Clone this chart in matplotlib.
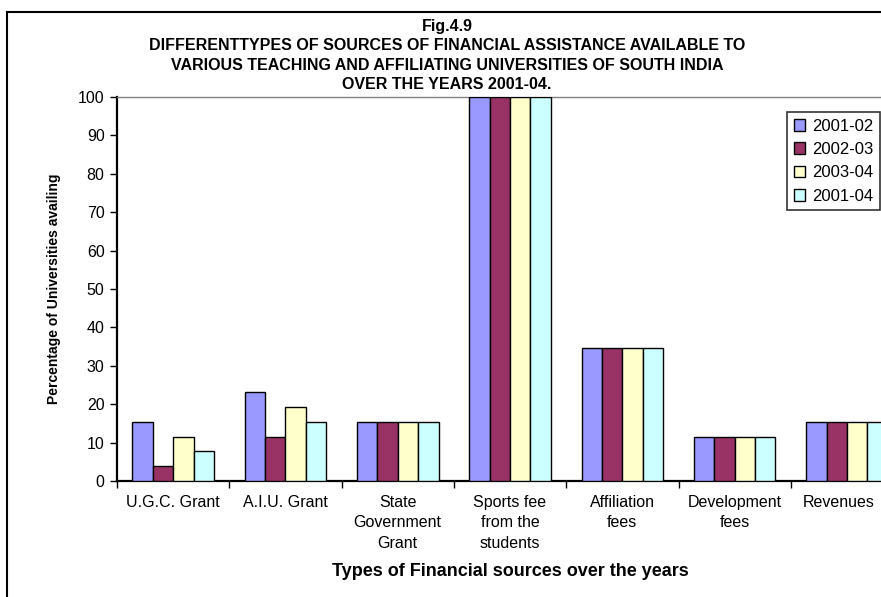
import numpy as np
import matplotlib
matplotlib.use("Agg")
import matplotlib.pyplot as plt
from matplotlib.patches import Rectangle
from matplotlib.transforms import ScaledTranslation

plt.rcParams['font.family'] = ['Liberation Sans', 'DejaVu Sans']

# sources and share of universities availing each (percent)
sources = ['U.G.C. Grant', 'A.I.U. Grant', 'State\nGovernment\nGrant',
           'Sports fee\nfrom the\nstudents', 'Affiliation\nfees',
           'Development\nfees', 'Revenues']
years = ['2001-02', '2002-03', '2003-04', '2001-04']
v_2001_02 = [15.38, 23.08, 15.38, 100, 34.62, 11.54, 15.38]
v_2002_03 = [3.85, 11.54, 15.38, 100, 34.62, 11.54, 15.38]
v_2003_04 = [11.54, 19.23, 15.38, 100, 34.62, 11.54, 15.38]
v_2001_04 = [7.69, 15.38, 15.38, 100, 34.62, 11.54, 15.38]
colors = ['#9999FF', '#993366', '#FFFFCC', '#CCFFFF']

W, H = 881, 597
fig = plt.figure(figsize=(W / 100, H / 100), dpi=100)
fig.patch.set_facecolor('white')

# outer chart border (runs off the right and bottom edges)
fig.patches.append(Rectangle((7 / W, -0.05), 1.2, 1 - 12 / H + 0.05,
                             transform=fig.transFigure, fill=False,
                             edgecolor='black', linewidth=1.5))

ax = fig.add_axes([117 / W, 1 - 481 / H, 7 * 112.3 / W, 384 / H])
ax.set_clip_on(False)

x = np.arange(len(sources))
bw = 1 / 5.5
series = [v_2001_02, v_2002_03, v_2003_04, v_2001_04]
for i, (vals, c, lab) in enumerate(zip(series, colors, years)):
    ax.bar(x + (i - 1.5) * bw, vals, width=bw, color=c, edgecolor='black',
           linewidth=1.0, label=lab, zorder=3)

ax.set_xlim(-0.5, len(sources) - 0.5)
ax.set_ylim(0, 100)
ax.set_yticks(range(0, 101, 10))
ax.tick_params(axis='y', direction='out', length=5, width=1, labelsize=11.5,
               pad=4)

ax.set_xticks(x)
ax.set_xticklabels(sources, fontsize=11.5, linespacing=1.45)
ax.set_xticks(np.arange(-0.5, len(sources), 1), minor=True)
ax.tick_params(axis='x', which='major', length=0, pad=10)
ax.tick_params(axis='x', which='minor', direction='out', length=5, width=1)

# last label sits against the right edge, nudge it inward
last = ax.get_xticklabels()[-1]
last.set_transform(last.get_transform() +
                   ScaledTranslation(-8 / 100, 0, fig.dpi_scale_trans))

for s in ['left', 'bottom']:
    ax.spines[s].set_linewidth(1.6)
    ax.spines[s].set_color('black')
ax.spines['top'].set_color('#808080')
ax.spines['top'].set_linewidth(1)
ax.spines['right'].set_visible(False)

ax.set_ylabel('Percentage of Universities availing', fontsize=10,
              fontweight='bold', labelpad=12)
ax.set_xlabel('Types of Financial sources over the years', fontsize=13,
              fontweight='bold', labelpad=9)

fig.text(447 / W, 1 - 19 / H,
         'Fig.4.9\n'
         'DIFFERENTTYPES OF SOURCES OF FINANCIAL ASSISTANCE AVAILABLE TO\n'
         'VARIOUS TEACHING AND AFFILIATING UNIVERSITIES OF SOUTH INDIA\n'
         'OVER THE YEARS 2001-04.',
         ha='center', va='top', fontsize=11.5, fontweight='bold',
         linespacing=1.36)

leg = ax.legend(loc='upper left', bbox_to_anchor=(787 / W, 1 - 112 / H),
                bbox_transform=fig.transFigure, fontsize=12,
                frameon=True, fancybox=False, borderpad=0.4,
                labelspacing=0.5, handlelength=0.7, handleheight=0.7,
                handletextpad=0.4, borderaxespad=0)
leg.get_frame().set_edgecolor('black')
leg.get_frame().set_linewidth(1.2)

fig.savefig('out.png', dpi=100)
